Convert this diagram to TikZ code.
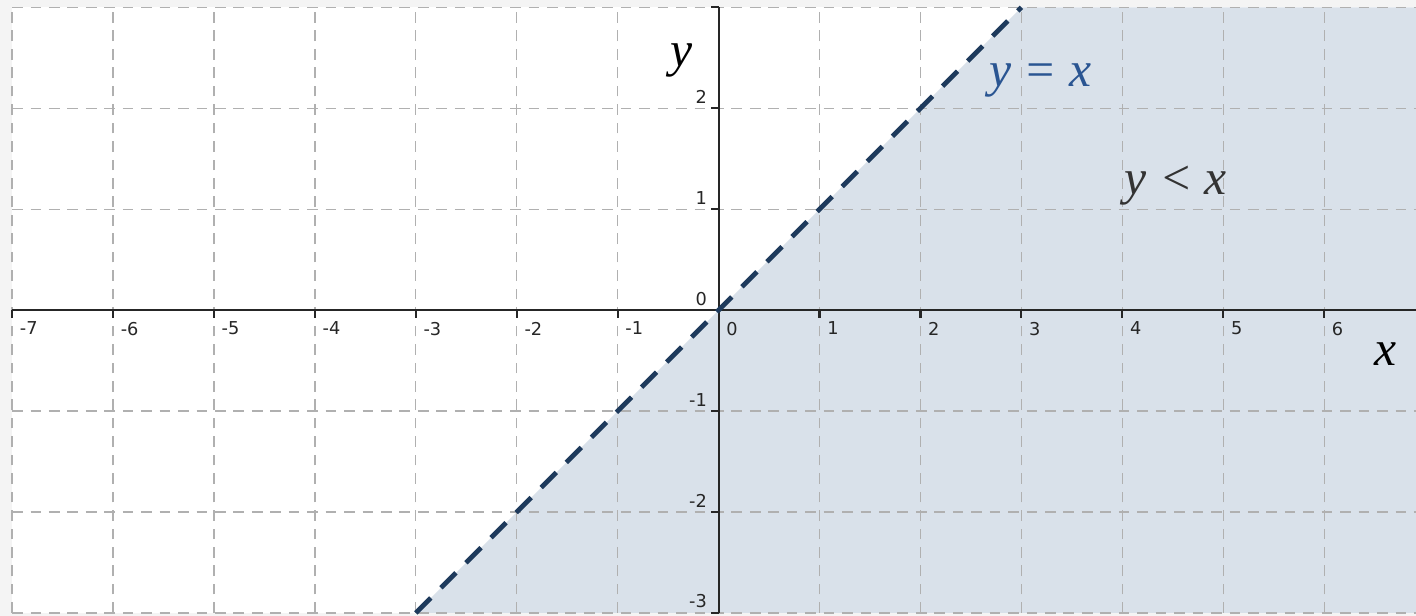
\documentclass[tikz,border=0pt]{standalone}
\usepackage{fontspec}
\setmainfont{Liberation Serif}
\newfontfamily\ticksfont{DejaVu Sans}
\usetikzlibrary{positioning,calc}
\definecolor{GM}{HTML}{F4F4F4}
\definecolor{GF}{HTML}{D9E1EA}
\definecolor{GL}{HTML}{1E3A5C}
\definecolor{GB}{HTML}{2A5592}
\definecolor{GG}{HTML}{B0B0B0}

\begin{document}
\begin{tikzpicture}[
    gridline/.style={GG, line width=0.35pt, dash pattern=on 3pt off 2.2pt},
    axisline/.style={black!85, line width=0.6pt},
    boundline/.style={GL, line width=1.3pt, dash pattern=on 6pt off 4pt},
    numlab/.style={font=\ticksfont\fontsize{5}{5}\selectfont,
                   inner sep=0pt, text=black!85},
    varlab/.style={font=\fontsize{14}{14}\selectfont\itshape,
                   inner sep=0pt}
  ]

        %% ── frame and plot area ──
        \useasboundingbox (-7.12,-3.03) rectangle (6.91,3.073);
        \fill[GM] (-7.12,-3.03) rectangle (6.91,3.073);
        \fill[white] (-7,-3) rectangle (6.91,3);

        %% ── half plane y < x ──
        \coordinate (lo) at (-3,-3);
        \coordinate (hi) at (3,3);
        \fill[GF] (lo) -- (hi) -- (6.91,3) -- (6.91,-3) -- cycle;

        %% ── grid ──
        \foreach \x in {-7,...,6}{
          \draw[gridline] (\x,-3) -- (\x,3);
        }
        \foreach \y in {-3,...,3}{
          \draw[gridline] (-7,\y) -- (6.91,\y);
        }

        %% ── axes ──
        \draw[axisline] (-7,0) -- (6.91,0);
        \draw[axisline] (0,-3) -- (0,3);

        %% x ticks and numbers
        \foreach \x in {-7,...,6}{
          \draw[axisline] (\x,0) -- (\x,-0.08);
          \node[numlab, anchor=north west] (nx\x)
            at (\x+0.07,-0.11) {\x};
        }

        %% y ticks and numbers
        \foreach \y in {-3,...,3}{
          \draw[axisline] (0,\y) -- (-0.08,\y);
        }
        \foreach \y in {-3,...,2}{
          \node[numlab, anchor=south east] (ny\y)
            at (-0.11,\y+0.04) {\y};
        }

        %% ── boundary y = x (dashed, not included) ──
        \draw[boundline] (lo) -- (hi);

        %% ── labels ──
        \node[varlab] (ylab) at (-0.37,2.47) {y};
        \node[varlab] (xlab) at (6.61,-0.44) {x};
        \node[varlab, text=GB] (eqlab) at (3.19,2.28) {y = x};
        \node[varlab, text=black!80] (ineqlab) at (4.53,1.23) {y < x};

\end{tikzpicture}
\end{document}
